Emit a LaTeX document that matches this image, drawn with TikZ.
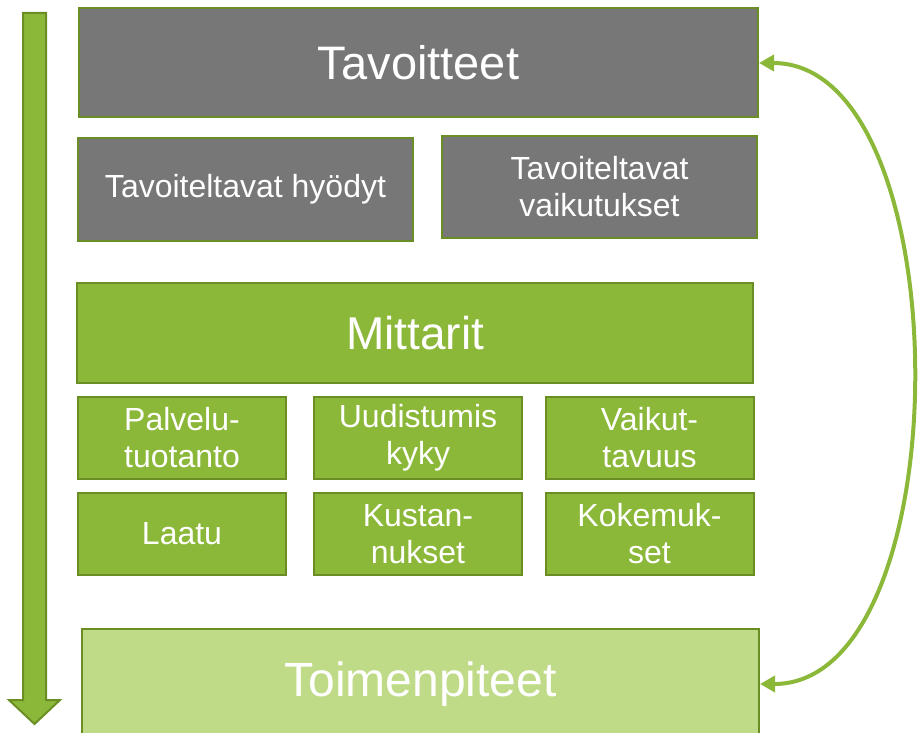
\documentclass[tikz,border=0pt]{standalone}
\usepackage{fontspec}
\setmainfont{Liberation Sans}
\usetikzlibrary{arrows.meta}
\definecolor{grayfill}{HTML}{777777}
\definecolor{greenfill}{HTML}{8CB83A}
\definecolor{lightgreen}{HTML}{BFDB87}
\definecolor{greenedge}{HTML}{6A8E23}
\begin{document}
\begin{tikzpicture}[x=1pt,y=-1pt,
  box/.style={draw=greenedge, line width=2pt, inner sep=0pt, text=white, align=center},
  graybox/.style={box, fill=grayfill},
  greenbox/.style={box, fill=greenfill},
  lightbox/.style={box, fill=lightgreen},
  smalltext/.style={font=\fontsize{32}{37}\selectfont},
  cellbox/.style={greenbox, smalltext, minimum width=208pt, minimum height=82pt},
  curvearrow/.style={draw=greenfill, line width=4pt,
    {Triangle[length=15pt,width=16pt]}-{Triangle[length=15pt,width=16pt]}}
]
\useasboundingbox (0,0) rectangle (918,733);
\clip (0,0) rectangle (918,733);

% left downward arrow
\draw[fill=greenfill, draw=greenedge, line width=2pt, line join=miter]
  (23,13) -- (46,13) -- (46,700) -- (60,700) -- (34.5,724) -- (9,700) -- (23,700) -- cycle;

% top
\node[graybox, font=\fontsize{47}{56}\selectfont, minimum width=679pt, minimum height=109pt] (tav) at (418.5,63) {Tavoitteet};
\node[graybox, smalltext, minimum width=335pt, minimum height=103pt] (hyo) at (245.5,189.5) {Tavoiteltavat hyödyt};
\node[graybox, smalltext, minimum width=315pt, minimum height=102pt] (vai) at (599.5,187) {Tavoiteltavat\\vaikutukset};

% measures
\node[greenbox, font=\fontsize{46}{55}\selectfont, minimum width=676pt, minimum height=100pt] (mit) at (415,333) {Mittarit};
\node[cellbox] (pal) at (182,438) {Palvelu-\\tuotanto};
\node[cellbox] (uud) at (418,438) {Uudistumis\\kyky};
\node[cellbox] (vkt) at (649.5,438) {Vaikut-\\tavuus};
\node[cellbox] (laa) at (182,534) {Laatu};
\node[cellbox] (kus) at (418,534) {Kustan-\\nukset};
\node[cellbox] (kok) at (649.5,534) {Kokemuk-\\set};

% actions
\node[lightbox, font=\fontsize{48}{56}\selectfont, minimum width=677pt, minimum height=110pt] (toi) at (420.5,684) {Toimenpiteet};

% feedback curve
\draw[curvearrow] (toi.east) .. controls +(203,0) and +(203,0) .. (tav.east);
\end{tikzpicture}
\end{document}
